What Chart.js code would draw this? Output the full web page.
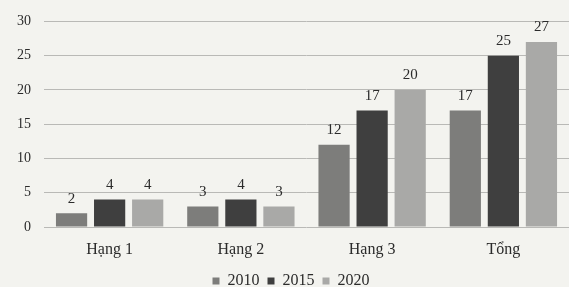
<!DOCTYPE html>
<html lang="vi">
<head>
<meta charset="UTF-8">
<title>Hạng</title>
<script src="https://cdn.jsdelivr.net/npm/chart.js"></script>
<style>
    html, body { margin: 0; padding: 0; background: #f3f3ef; }
    #wrap { width: 569px; height: 287px; }
</style>
</head>
<body>
<div id="wrap"><canvas id="c"></canvas></div>
<script>
    const categories = ['Hạng 1', 'Hạng 2', 'Hạng 3', 'Tổng'];
    const years = ['2010', '2015', '2020'];
    const v2010 = [2, 3, 12, 17];
    const v2015 = [4, 4, 17, 25];
    const v2020 = [4, 3, 20, 27];
    const colors = ['#7d7d7b', '#3f3f3f', '#a9a9a7'];

    const serif = '"Liberation Serif", "DejaVu Serif", serif';

    // values above each bar
    const valueLabels = {
        id: 'valueLabels',
        afterDatasetsDraw(chart) {
            const ctx = chart.ctx;
            ctx.save();
            ctx.font = '15px ' + serif;
            ctx.fillStyle = '#2b2b2b';
            ctx.textAlign = 'center';
            ctx.textBaseline = 'bottom';
            chart.data.datasets.forEach((ds, i) => {
                chart.getDatasetMeta(i).data.forEach((bar, j) => {
                    ctx.fillText(ds.data[j], bar.x, bar.y - 7);
                });
            });
            ctx.restore();
        }
    };

    new Chart(document.getElementById('c'), {
        type: 'bar',
        data: {
            labels: categories,
            datasets: [
                { label: years[0], data: v2010, backgroundColor: colors[0] },
                { label: years[1], data: v2015, backgroundColor: colors[1] },
                { label: years[2], data: v2020, backgroundColor: colors[2] }
            ]
        },
        options: {
            responsive: true,
            maintainAspectRatio: false,
            animation: false,
            categoryPercentage: 0.87,
            barPercentage: 0.82,
            layout: { padding: { top: 3, left: 4, right: -9, bottom: -12 } },
            scales: {
                x: {
                    grid: { display: false },
                    border: { display: false },
                    ticks: { font: { family: serif, size: 16 }, color: '#2b2b2b', padding: 5 },
                    afterFit(scale) { scale.height = 38; }
                },
                y: {
                    min: 0,
                    max: 30,
                    ticks: { stepSize: 5, font: { family: serif, size: 14 }, color: '#2b2b2b', padding: 13 },
                    grid: { color: '#b9b9b6', drawTicks: false },
                    border: { display: false }
                }
            },
            plugins: {
                legend: {
                    position: 'bottom',
                    labels: {
                        font: { family: serif, size: 16 },
                        color: '#2b2b2b',
                        boxWidth: 7,
                        boxHeight: 7,
                        padding: 8
                    }
                },
                tooltip: { enabled: false }
            }
        },
        plugins: [valueLabels]
    });
</script>
</body>
</html>
